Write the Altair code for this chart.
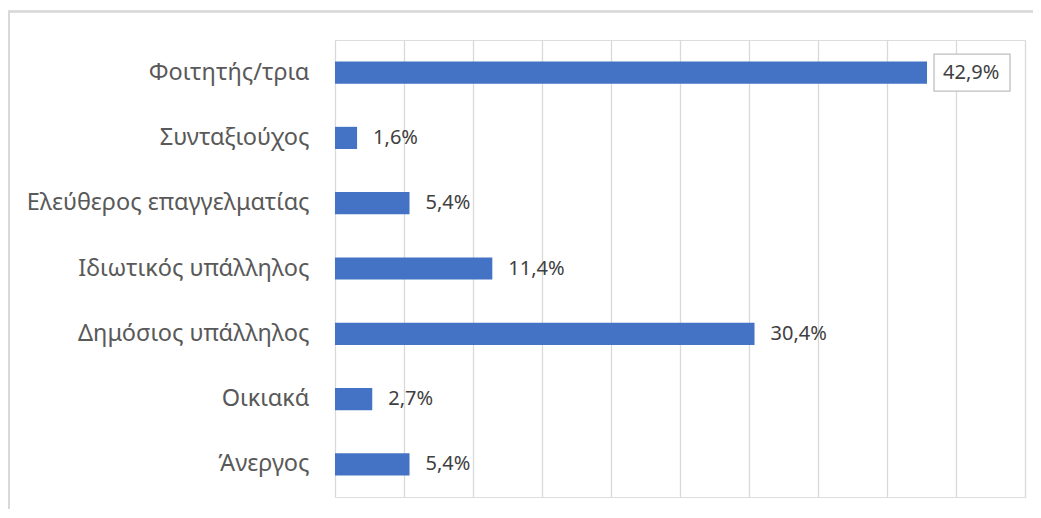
import altair as alt
import pandas as pd

categories = ["Φοιτητής/τρια", "Συνταξιούχος", "Ελεύθερος επαγγελματίας",
              "Ιδιωτικός υπάλληλος", "Δημόσιος υπάλληλος", "Οικιακά", "Άνεργος"]
values = [42.9, 1.6, 5.4, 11.4, 30.4, 2.7, 5.4]
grid_values = [0, 5, 10, 15, 20, 25, 30, 35, 40, 45, 50]

df = pd.DataFrame({"cat": categories, "val": values})
FONT = "Noto Sans"

base = alt.Chart(df).transform_calculate(
    label="replace(format(datum.val, '.1f'), '.', ',') + '%'"
)

yenc = alt.Y("cat:N", sort=categories,
             scale=alt.Scale(paddingInner=0.66, paddingOuter=0.33),
             axis=alt.Axis(title=None, domain=False, ticks=False, labelPadding=26,
                           labelFontSize=23.5, labelColor="#595959", labelFont=FONT,
                           labelLimit=400))
xscale = alt.Scale(domain=[0, 50], nice=False)

bars = base.mark_bar(color="#4472C4").encode(
    y=yenc,
    x=alt.X("val:Q", scale=xscale,
            axis=alt.Axis(values=grid_values, labels=False, ticks=False, domain=False,
                          grid=True, gridColor="#D9D9D9", gridWidth=1.3, title=None)),
)

box = base.transform_filter(alt.datum.val == max(values)).mark_bar(
    fill="white", stroke="#BFBFBF", strokeWidth=1.3, size=37,
    xOffset=7, x2Offset=83
).encode(y=alt.Y("cat:N", sort=categories), x=alt.X("val:Q", scale=xscale), x2="val:Q")

text = base.mark_text(align="left", dx=16, fontSize=20, color="#404040", font=FONT).encode(
    y=alt.Y("cat:N", sort=categories), x=alt.X("val:Q", scale=xscale), text="label:N"
)

frame = alt.Chart(df).mark_rect(fill=None, stroke="#D9D9D9", strokeWidth=1.5).encode(
    x=alt.value(-326), x2=alt.value(760), y=alt.value(-28.5), y2=alt.value(560)
)

chart = alt.layer(frame, bars, box, text).properties(
    width=690, height=457,
    autosize=alt.AutoSizeParams(type="none"),
    padding={"left": 327, "top": 32, "right": 8, "bottom": 12},
).configure_view(stroke=None).configure(background="white")

chart.save("out.html", embed_options={"renderer": "svg", "actions": False})
